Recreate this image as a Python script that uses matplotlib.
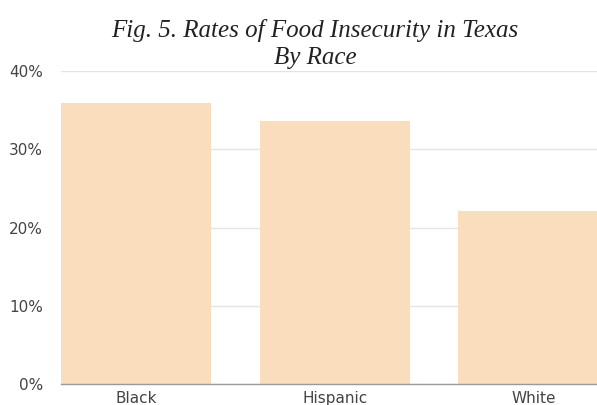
import matplotlib
matplotlib.use("Agg")
import matplotlib.pyplot as plt
from matplotlib.ticker import FuncFormatter

categories = ["Black", "Hispanic", "White"]
rates = [35.9, 33.6, 22.1]
yticks = [0, 10, 20, 30, 40]

fig = plt.figure(figsize=(5.97, 4.05), dpi=100)
W, H = 597, 405
ax = fig.add_axes([61 / W, 1 - 384 / H, (597 - 61) / W, (384 - 71) / H])

x = list(range(len(categories)))
ax.bar(x, rates, width=0.756, color="#FADDBC", edgecolor="none", zorder=2)

ax.set_xlim(-0.380, 2.32)
ax.set_ylim(0, 40)
ax.set_yticks(yticks)
ax.yaxis.set_major_formatter(FuncFormatter(lambda v, p: f"{int(v)}%"))
ax.set_xticks(x)
ax.set_xticklabels(categories)
ax.grid(axis="y", color="#e4e4e4", linewidth=1, zorder=0)
ax.set_axisbelow(True)
for s in ["top", "right", "left"]:
    ax.spines[s].set_visible(False)
ax.spines["bottom"].set_color("#999999")
ax.spines["bottom"].set_linewidth(1)
ax.spines["bottom"].set_zorder(3)
ax.tick_params(axis="both", length=0, labelsize=11, colors="#444444")
ax.tick_params(axis="y", pad=13)
ax.tick_params(axis="x", pad=5)
for lab in ax.get_xticklabels() + ax.get_yticklabels():
    lab.set_family("DejaVu Sans")

fig.text(315 / W, 1 - 31 / H, "Fig. 5. Rates of Food Insecurity in Texas",
         ha="center", va="center", fontsize=18, style="italic",
         family="Liberation Serif", color="#222222")
fig.text(315 / W, 1 - 58 / H, "By Race",
         ha="center", va="center", fontsize=18, style="italic",
         family="Liberation Serif", color="#222222")

fig.savefig("out.png", dpi=100)
